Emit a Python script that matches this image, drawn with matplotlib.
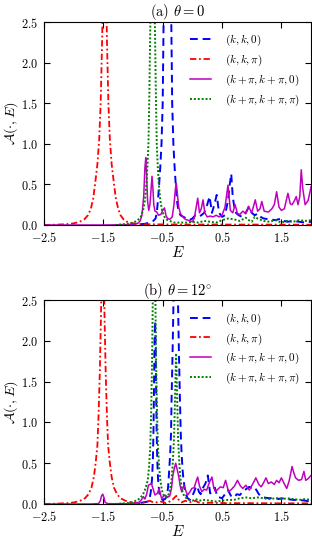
import numpy as np
import matplotlib
matplotlib.use("Agg")
import matplotlib.pyplot as plt

plt.rcParams['font.family'] = 'serif'
plt.rcParams['font.serif'] = ['cmr10', 'DejaVu Serif']
plt.rcParams['mathtext.fontset'] = 'cm'
plt.rcParams['axes.formatter.use_mathtext'] = True
plt.rcParams['axes.unicode_minus'] = True

# ---- panel (a): theta = 0 ----
red_a_E = [-2.5, -2.3, -2.13, -2.0, -1.9, -1.82, -1.76, -1.71, -1.67, -1.64, -1.6, -1.57,
           -1.545, -1.52, -1.5, -1.48, -1.46, -1.44, -1.415, -1.39, -1.36, -1.32, -1.29,
           -1.25, -1.21, -1.16, -1.1, -1.03, -0.94, -0.83, -0.6, -0.3, 0.0, 0.4, 0.8, 1.2, 1.6, 2.0]
red_a_A = [0.0, 0.004, 0.01, 0.02, 0.04, 0.07, 0.12, 0.2, 0.33, 0.5, 0.75, 1.05,
           1.5, 2.3, 3.2, 3.8, 3.2, 2.3, 1.5, 1.05, 0.75, 0.5, 0.33,
           0.2, 0.12, 0.07, 0.04, 0.025, 0.015, 0.01, 0.008, 0.006, 0.005, 0.006, 0.005, 0.005, 0.004, 0.004]

blue_a_E = [-1.3, -1.0, -0.9, -0.8, -0.72, -0.66, -0.62, -0.6, -0.58, -0.56, -0.54, -0.52,
            -0.5, -0.485, -0.46, -0.42, -0.38, -0.355, -0.34, -0.32, -0.3, -0.28, -0.26,
            -0.24, -0.22, -0.2, -0.15, -0.1, -0.05, 0.0, 0.05, 0.1, 0.15, 0.2, 0.25, 0.29,
            0.33, 0.37, 0.41, 0.45, 0.5, 0.55, 0.6, 0.63, 0.655, 0.68, 0.72, 0.78, 0.84,
            0.9, 0.95, 1.0, 1.05, 1.1, 1.15, 1.2, 1.3, 1.4, 1.5, 1.55, 1.6, 1.7, 1.8, 1.9, 2.0]
blue_a_A = [0.0, 0.004, 0.008, 0.015, 0.03, 0.05, 0.08, 0.15, 0.3, 0.5, 0.72, 1.0,
            1.5, 2.5, 3.3, 3.8, 3.3, 2.5, 1.5, 1.0, 0.72, 0.5, 0.3,
            0.2, 0.15, 0.12, 0.1, 0.08, 0.06, 0.08, 0.12, 0.1, 0.12, 0.15, 0.25, 0.35,
            0.15, 0.25, 0.37, 0.15, 0.1, 0.12, 0.3, 0.5, 0.63, 0.35, 0.16, 0.12, 0.1,
            0.15, 0.22, 0.15, 0.12, 0.14, 0.1, 0.08, 0.07, 0.06, 0.08, 0.05, 0.04, 0.05, 0.04, 0.03, 0.04]

mag_a_E = [-2.5, -1.5, -1.0, -0.92, -0.88, -0.85, -0.82, -0.8, -0.785, -0.77, -0.755, -0.735,
           -0.715, -0.695, -0.68, -0.665, -0.65, -0.63, -0.6, -0.57, -0.53, -0.5, -0.47,
           -0.445, -0.42, -0.38, -0.34, -0.31, -0.285, -0.27, -0.255, -0.23, -0.2, -0.16,
           -0.12, -0.08, -0.04, 0.0, 0.03, 0.06, 0.09, 0.12, 0.15, 0.18, 0.21, 0.25, 0.3,
           0.35, 0.4, 0.45, 0.5, 0.55, 0.6, 0.64, 0.68, 0.72, 0.76, 0.8, 0.85, 0.9, 0.945,
           1.0, 1.06, 1.1, 1.14, 1.17, 1.21, 1.28, 1.34, 1.38, 1.42, 1.46, 1.5, 1.55, 1.61,
           1.65, 1.68, 1.72, 1.75, 1.78, 1.81, 1.835, 1.86, 1.9, 1.95, 2.0]
mag_a_A = [0.0, 0.0, 0.005, 0.02, 0.05, 0.12, 0.35, 0.7, 0.83, 0.6, 0.3, 0.18,
           0.25, 0.45, 0.6, 0.45, 0.25, 0.17, 0.16, 0.12, 0.13, 0.18, 0.21,
           0.12, 0.08, 0.07, 0.1, 0.25, 0.45, 0.51, 0.4, 0.22, 0.14, 0.1,
           0.07, 0.06, 0.05, 0.04, 0.08, 0.2, 0.33, 0.15, 0.2, 0.31, 0.15, 0.1, 0.11,
           0.1, 0.12, 0.1, 0.12, 0.22, 0.49, 0.18, 0.15, 0.25, 0.14, 0.13, 0.17, 0.14, 0.23,
           0.15, 0.31, 0.17, 0.2, 0.29, 0.17, 0.16, 0.2, 0.25, 0.41, 0.22, 0.18, 0.2, 0.39,
           0.26, 0.25, 0.3, 0.35, 0.25, 0.35, 0.68, 0.45, 0.25, 0.3, 0.47]

green_a_E = [-1.3, -1.15, -1.05, -0.98, -0.94, -0.9, -0.87, -0.83, -0.8, -0.775, -0.755, -0.74,
             -0.725, -0.71, -0.69, -0.67, -0.65, -0.63, -0.615, -0.6, -0.585, -0.565, -0.54,
             -0.51, -0.47, -0.43, -0.38, -0.3, -0.2, -0.1, 0.0, 0.1, 0.2, 0.3, 0.4, 0.5, 0.6,
             0.7, 0.8, 0.9, 0.95, 1.0, 1.05, 1.1, 1.2, 1.3, 1.4, 1.5, 1.6, 1.7, 1.8, 1.9, 2.0]
green_a_A = [0.0, 0.01, 0.02, 0.035, 0.05, 0.075, 0.1, 0.18, 0.3, 0.5, 0.75, 1.0,
             1.6, 2.4, 3.3, 3.7, 3.3, 2.4, 1.6, 1.0, 0.75, 0.5, 0.3,
             0.18, 0.1, 0.065, 0.05, 0.03, 0.03, 0.03, 0.04, 0.03, 0.05, 0.04, 0.03, 0.06, 0.08,
             0.07, 0.05, 0.09, 0.06, 0.04, 0.1, 0.08, 0.05, 0.04, 0.06, 0.03, 0.05, 0.04, 0.06, 0.05, 0.06]

# ---- panel (b): theta = 12 deg ----
red_b_E = [-2.5, -2.3, -2.11, -1.99, -1.89, -1.81, -1.75, -1.7, -1.66, -1.63, -1.6, -1.58,
           -1.56, -1.54, -1.525, -1.51, -1.495, -1.48, -1.46, -1.44, -1.42, -1.39, -1.36,
           -1.32, -1.27, -1.21, -1.13, -1.03, -0.9, -0.8, -0.72, -0.66, -0.6, -0.52, -0.45,
           -0.35, -0.3, -0.27, -0.24, -0.18, -0.12, -0.05, 0.0, 0.05, 0.1, 0.2, 0.3, 0.6,
           1.0, 1.4, 1.8, 2.0]
red_b_A = [0.0, 0.004, 0.01, 0.02, 0.04, 0.07, 0.12, 0.2, 0.33, 0.5, 0.72, 1.1,
           1.6, 2.3, 3.0, 3.6, 3.0, 2.3, 1.6, 1.1, 0.72, 0.5, 0.33,
           0.2, 0.12, 0.07, 0.04, 0.02, 0.01, 0.02, 0.04, 0.02, 0.02, 0.03, 0.01,
           0.04, 0.08, 0.1, 0.06, 0.02, 0.04, 0.02, 0.03, 0.04, 0.02, 0.01, 0.015, 0.01,
           0.01, 0.008, 0.008, 0.008]

blue_b_E = [-1.3, -1.0, -0.9, -0.82, -0.75, -0.72, -0.7, -0.68, -0.665, -0.655, -0.645, -0.637,
            -0.628, -0.62, -0.612, -0.602, -0.592, -0.578, -0.56, -0.54, -0.5, -0.46, -0.43,
            -0.41, -0.4, -0.39, -0.375, -0.36, -0.35, -0.335, -0.32, -0.305, -0.28, -0.255,
            -0.24, -0.225, -0.21, -0.195, -0.18, -0.165, -0.15, -0.13, -0.11, -0.08, -0.04,
            0.0, 0.03, 0.05, 0.08, 0.11, 0.14, 0.18, 0.22, 0.26, 0.3, 0.34, 0.38, 0.42, 0.46,
            0.5, 0.55, 0.6, 0.65, 0.7, 0.75, 0.8, 0.85, 0.9, 0.96, 1.0, 1.04, 1.08, 1.12, 1.16,
            1.2, 1.3, 1.4, 1.45, 1.5, 1.6, 1.7, 1.8, 1.9, 2.0]
blue_b_A = [0.0, 0.005, 0.01, 0.02, 0.03, 0.07, 0.15, 0.3, 0.55, 0.9, 1.5, 2.0,
            2.24, 2.0, 1.5, 0.9, 0.55, 0.3, 0.15, 0.08, 0.05, 0.06, 0.1,
            0.2, 0.3, 0.42, 0.6, 0.85, 1.3, 1.8, 2.4, 3.2, 3.7, 3.2,
            2.4, 1.8, 1.3, 0.85, 0.6, 0.42, 0.3, 0.2, 0.12, 0.07, 0.05,
            0.1, 0.15, 0.19, 0.22, 0.15, 0.12, 0.2, 0.25, 0.35, 0.13, 0.15, 0.2, 0.09, 0.08,
            0.07, 0.12, 0.17, 0.1, 0.08, 0.12, 0.11, 0.15, 0.18, 0.21, 0.2, 0.21, 0.17, 0.12, 0.09,
            0.08, 0.07, 0.08, 0.06, 0.07, 0.06, 0.05, 0.05, 0.04, 0.03]

mag_b_E = [-2.5, -1.7, -1.58, -1.55, -1.53, -1.51, -1.49, -1.47, -1.43, -1.2, -1.0, -0.9,
           -0.86, -0.825, -0.8, -0.77, -0.74, -0.69, -0.66, -0.63, -0.59, -0.56, -0.52,
           -0.49, -0.46, -0.42, -0.38, -0.35, -0.33, -0.3, -0.28, -0.255, -0.23, -0.205,
           -0.18, -0.14, -0.11, -0.08, -0.04, -0.01, 0.03, 0.06, 0.09, 0.12, 0.16, 0.2,
           0.24, 0.29, 0.33, 0.36, 0.39, 0.43, 0.47, 0.52, 0.56, 0.61, 0.66, 0.71, 0.76,
           0.81, 0.85, 0.9, 0.96, 1.02, 1.07, 1.12, 1.16, 1.2, 1.24, 1.28, 1.33, 1.38, 1.42,
           1.46, 1.5, 1.54, 1.59, 1.63, 1.68, 1.71, 1.74, 1.79, 1.84, 1.88, 1.91, 1.95, 2.0]
mag_b_A = [0.0, 0.0, 0.005, 0.04, 0.1, 0.12, 0.08, 0.02, 0.005, 0.0, 0.005, 0.02,
           0.05, 0.09, 0.06, 0.12, 0.23, 0.25, 0.18, 0.11, 0.13, 0.19, 0.07,
           0.09, 0.11, 0.08, 0.1, 0.2, 0.34, 0.45, 0.5, 0.42, 0.34, 0.22,
           0.15, 0.23, 0.16, 0.11, 0.15, 0.19, 0.2, 0.27, 0.33, 0.22, 0.15, 0.18,
           0.17, 0.27, 0.33, 0.2, 0.15, 0.18, 0.21, 0.2, 0.29, 0.15, 0.18, 0.22, 0.29,
           0.22, 0.19, 0.23, 0.17, 0.25, 0.32, 0.24, 0.21, 0.26, 0.32, 0.25, 0.27, 0.24, 0.29,
           0.26, 0.32, 0.26, 0.19, 0.28, 0.46, 0.38, 0.32, 0.29, 0.3, 0.4, 0.29, 0.31, 0.35]

green_b_E = [-1.3, -1.1, -1.0, -0.92, -0.87, -0.83, -0.8, -0.77, -0.75, -0.73, -0.71, -0.695,
             -0.68, -0.667, -0.655, -0.645, -0.635, -0.623, -0.61, -0.595, -0.58, -0.56,
             -0.54, -0.52, -0.5, -0.47, -0.44, -0.41, -0.38, -0.35, -0.33, -0.31, -0.295,
             -0.283, -0.274, -0.265, -0.253, -0.24, -0.22, -0.2, -0.17, -0.14, -0.1, -0.05,
             0.0, 0.05, 0.1, 0.15, 0.2, 0.3, 0.4, 0.5, 0.6, 0.7, 0.8, 0.9, 1.0, 1.1, 1.2,
             1.3, 1.4, 1.5, 1.6, 1.7, 1.8, 1.9, 2.0]
green_b_A = [0.0, 0.01, 0.025, 0.05, 0.08, 0.12, 0.17, 0.24, 0.3, 0.45, 0.7, 1.1,
             1.7, 2.5, 3.2, 3.5, 3.2, 2.5, 1.7, 1.1, 0.7, 0.45,
             0.3, 0.2, 0.13, 0.09, 0.08, 0.1, 0.16, 0.3, 0.5, 0.8, 1.2,
             1.6, 1.85, 1.6, 1.2, 0.8, 0.5, 0.3, 0.16, 0.1, 0.07, 0.05,
             0.04, 0.06, 0.05, 0.04, 0.05, 0.04, 0.03, 0.04, 0.05, 0.05, 0.07, 0.08, 0.07, 0.08, 0.07,
             0.06, 0.07, 0.06, 0.07, 0.06, 0.05, 0.06, 0.05]

labels = [r'$(k,k,0)$', r'$(k,k,\pi)$', r'$(k+\pi,k+\pi,0)$', r'$(k+\pi,k+\pi,\pi)$']
titles = [r'(a) $\theta=0$', r'(b) $\theta=12^{\circ}$']
xticks = [-2.5, -1.5, -0.5, 0.5, 1.5]
yticks = [0.0, 0.5, 1.0, 1.5, 2.0, 2.5]

panels = [
    (blue_a_E, blue_a_A, red_a_E, red_a_A, mag_a_E, mag_a_A, green_a_E, green_a_A),
    (blue_b_E, blue_b_A, red_b_E, red_b_A, mag_b_E, mag_b_A, green_b_E, green_b_A),
]
boxes = [[0.141, 0.581, 0.856, 0.378], [0.141, 0.0615, 0.856, 0.3795]]

fig = plt.figure(figsize=(3.12, 5.37), dpi=100)

for i, data in enumerate(panels):
    ax = fig.add_axes(boxes[i])
    bE, bA, rE, rA, mE, mA, gE, gA = data
    ax.plot(bE, bA, '--', color=(0, 0, 1), lw=1.4, dashes=(4, 2.5), label=labels[0])
    ax.plot(rE, rA, '-.', color=(1, 0, 0), lw=1.3, dashes=(3.5, 1.5, 1, 1.5), label=labels[1])
    ax.plot(mE, mA, '-', color=(0.75, 0, 0.75), lw=1.1, label=labels[2])
    ax.plot(gE, gA, ':', color=(0, 0.5, 0), lw=1.4, dashes=(1, 1), label=labels[3])

    ax.set_xlim(-2.5, 2.0)
    ax.set_ylim(0, 2.5)
    ax.set_xticks(xticks)
    ax.set_yticks(yticks)
    ax.set_xticklabels([r'$%.1f$' % t for t in xticks])
    ax.set_yticklabels([r'$%.1f$' % t for t in yticks])
    ax.tick_params(direction='in', top=True, right=True, length=4, width=0.8,
                   labelsize=8.8, pad=4)
    for sp in ax.spines.values():
        sp.set_linewidth(0.8)
    ax.set_title(titles[i], fontsize=10.5, pad=4)
    ax.set_xlabel(r'$E$', fontsize=11, labelpad=0)
    ax.set_ylabel(r'$\mathcal{A}(\cdot,E)$', fontsize=10.2, labelpad=1)
    ax.legend(loc='upper right', frameon=False, fontsize=8.0, handlelength=1.9,
              labelspacing=0.42, borderaxespad=0.6, handletextpad=1.2)

fig.savefig('out.png', dpi=100)
